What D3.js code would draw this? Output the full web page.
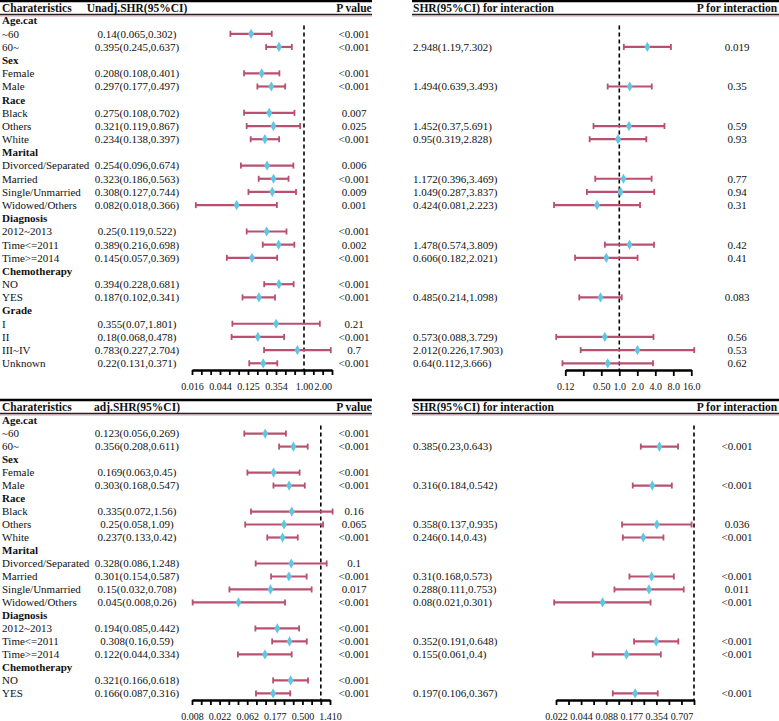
<!DOCTYPE html>
<html>
<head>
<meta charset="utf-8">
<script src="https://cdn.jsdelivr.net/npm/d3@7"></script>
<style>
  body { margin: 0; background: #fff; }
  text { font-family: "Liberation Serif", "Times New Roman", serif; fill: #111; }
</style>
</head>
<body>
<div id="chart"></div>
<script>
// row labels (group rows are in bold)
var labels = ["Age.cat","~60","60~","Sex","Female","Male","Race","Black","Others","White",
  "Marital","Divorced/Separated","Married","Single/Unmarried","Widowed/Others",
  "Diagnosis","2012~2013","Time<=2011","Time>=2014","Chemotherapy","NO","YES",
  "Grade","I","II","III~IV","Unknown"];
var groups = ["Age.cat","Sex","Race","Marital","Diagnosis","Chemotherapy","Grade"];

// top panel: unadjusted
var topEst = [null,0.14,0.395,null,0.208,0.297,null,0.275,0.321,0.234,null,0.254,0.323,0.308,0.082,null,0.25,0.389,0.145,null,0.394,0.187,null,0.355,0.18,0.783,0.22];
var topLo  = [null,0.065,0.245,null,0.108,0.177,null,0.108,0.119,0.138,null,0.096,0.186,0.127,0.018,null,0.119,0.216,0.057,null,0.228,0.102,null,0.07,0.068,0.227,0.131];
var topHi  = [null,0.302,0.637,null,0.401,0.497,null,0.702,0.867,0.397,null,0.674,0.563,0.744,0.366,null,0.522,0.698,0.369,null,0.681,0.341,null,1.801,0.478,2.704,0.371];
var topP   = ["","<0.001","<0.001","","<0.001","<0.001","","0.007","0.025","<0.001","","0.006","<0.001","0.009","0.001","","<0.001","0.002","<0.001","","<0.001","<0.001","","0.21","<0.001","0.7","<0.001"];
var topIntEst = [null,null,2.948,null,null,1.494,null,null,1.452,0.95,null,null,1.172,1.049,0.424,null,null,1.478,0.606,null,null,0.485,null,null,0.573,2.012,0.64];
var topIntLo  = [null,null,1.19,null,null,0.639,null,null,0.37,0.319,null,null,0.396,0.287,0.081,null,null,0.574,0.182,null,null,0.214,null,null,0.088,0.226,0.112];
var topIntHi  = [null,null,7.302,null,null,3.493,null,null,5.691,2.828,null,null,3.469,3.837,2.223,null,null,3.809,2.021,null,null,1.098,null,null,3.729,17.903,3.666];
var topIntP   = ["","","0.019","","","0.35","","","0.59","0.93","","","0.77","0.94","0.31","","","0.42","0.41","","","0.083","","","0.56","0.53","0.62"];

// bottom panel: adjusted
var botEst = [null,0.123,0.356,null,0.169,0.303,null,0.335,0.25,0.237,null,0.328,0.301,0.15,0.045,null,0.194,0.308,0.122,null,0.321,0.166];
var botLo  = [null,0.056,0.208,null,0.063,0.168,null,0.072,0.058,0.133,null,0.086,0.154,0.032,0.008,null,0.085,0.16,0.044,null,0.166,0.087];
var botHi  = [null,0.269,0.611,null,0.45,0.547,null,1.56,1.09,0.42,null,1.248,0.587,0.708,0.26,null,0.442,0.59,0.334,null,0.618,0.316];
var botP   = ["","<0.001","<0.001","","<0.001","<0.001","","0.16","0.065","<0.001","","0.1","<0.001","0.017","<0.001","","<0.001","<0.001","<0.001","","<0.001","<0.001"];
var botIntEst = [null,null,0.385,null,null,0.316,null,null,0.358,0.246,null,null,0.31,0.288,0.08,null,null,0.352,0.155,null,null,0.197];
var botIntLo  = [null,null,0.23,null,null,0.184,null,null,0.137,0.14,null,null,0.168,0.111,0.021,null,null,0.191,0.061,null,null,0.106];
var botIntHi  = [null,null,0.643,null,null,0.542,null,null,0.935,0.43,null,null,0.573,0.753,0.301,null,null,0.648,0.4,null,null,0.367];
var botIntP   = ["","","<0.001","","","<0.001","","","0.036","<0.001","","","<0.001","0.011","<0.001","","","<0.001","<0.001","","","<0.001"];

// axis ticks (log2 exponents) and labels
var tlTicks = d3.range(-6, 1.51, 0.5), tlLabVals = [-6,-4.5,-3,-1.5,0,1], tlLabs = ["0.016","0.044","0.125","0.354","1.00","2.00"];
var trTicks = d3.range(-3, 4.01, 1),   trLabVals = [-3,-1,0,1,2,3,4],     trLabs = ["0.12","0.50","1.0","2.0","4.0","8.0","16.0"];
var blTicks = d3.range(-7, 0.51, 0.5), blLabVals = [-7,-5.5,-4,-2.5,-1,0.5], blLabs = ["0.008","0.022","0.062","0.177","0.500","1.410"];
var brTicks = d3.range(-5.5, 0.01, 0.5), brLabVals = [-5.5,-4.5,-3.5,-2.5,-1.5,-0.5], brLabs = ["0.022","0.044","0.088","0.177","0.354","0.707"];

var W = 779, H = 721;
var ciColor = "#b9506f", ptColor = "#5fc6e3";

var svg = d3.select("#chart").append("svg")
  .attr("width", W).attr("height", H);
svg.append("rect").attr("width", W).attr("height", H).attr("fill", "#fff");

function fmt(e, l, h) { return e == null ? "" : e + "(" + l + "," + h + ")"; }

function header(y0, x1, x2) {
  svg.append("line").attr("x1", x1).attr("x2", x2).attr("y1", y0).attr("y2", y0)
    .attr("stroke", "#000").attr("stroke-width", 2.5);
  svg.append("line").attr("x1", x1).attr("x2", x2).attr("y1", y0 + 13.5).attr("y2", y0 + 13.5)
    .attr("stroke", "#222").attr("stroke-width", 1.3);
  svg.append("line").attr("x1", x1).attr("x2", x2).attr("y1", y0 + 15).attr("y2", y0 + 15)
    .attr("stroke", ciColor).attr("stroke-width", 0.8).attr("opacity", 0.7);
}

function forest(g, x, rows, est, lo, hi, yTop, yAxis, ticks, labVals, labs, tickLen) {
  // reference line at 1
  g.append("line").attr("x1", x(1)).attr("x2", x(1))
    .attr("y1", rows(0) + 5).attr("y2", yAxis)
    .attr("stroke", "#000").attr("stroke-width", 1.6).attr("stroke-dasharray", "4,3");

  var idx = d3.range(est.length).filter(function(i) { return est[i] != null; });
  var ci = g.selectAll(".ci").data(idx).enter().append("g");
  ci.append("line")
    .attr("x1", function(i) { return x(lo[i]); })
    .attr("x2", function(i) { return x(hi[i]); })
    .attr("y1", function(i) { return rows(i); })
    .attr("y2", function(i) { return rows(i); })
    .attr("stroke", ciColor).attr("stroke-width", 2.2);
  [lo, hi].forEach(function(arr) {
    ci.append("line")
      .attr("x1", function(i) { return x(arr[i]); })
      .attr("x2", function(i) { return x(arr[i]); })
      .attr("y1", function(i) { return rows(i) - 3; })
      .attr("y2", function(i) { return rows(i) + 3; })
      .attr("stroke", ciColor).attr("stroke-width", 1.8);
  });
  ci.append("path")
    .attr("d", d3.symbol(d3.symbolDiamond, 30))
    .attr("transform", function(i) { return "translate(" + x(est[i]) + "," + rows(i) + ")"; })
    .attr("fill", ptColor);

  // axis with ticks, then labels
  var ax = g.append("g").attr("transform", "translate(0," + yAxis + ")")
    .call(d3.axisBottom(x).tickValues(ticks.map(function(v) { return Math.pow(2, v); }))
      .tickSize(tickLen).tickSizeOuter(0).tickFormat(""));
  ax.select(".domain").attr("stroke", "#000").attr("stroke-width", 2.5);
  ax.selectAll(".tick line").attr("stroke", "#000").attr("stroke-width", 1.8);

  var lab = g.append("g").attr("transform", "translate(0," + yAxis + ")")
    .call(d3.axisBottom(x).tickValues(labVals.map(function(v) { return Math.pow(2, v); }))
      .tickSize(0).tickPadding(13)
      .tickFormat(function(d, i) { return labs[i]; }));
  lab.select(".domain").remove();
  lab.selectAll("text").style("font-family", "Liberation Serif").style("font-size", "10px").attr("fill", "#111");
}

function textCols(g, rows, n, cols) {
  cols.forEach(function(c) {
    g.selectAll(null).data(d3.range(n)).enter().append("text")
      .attr("x", c.x).attr("y", function(i) { return rows(i); })
      .attr("dy", "0.35em")
      .attr("text-anchor", c.anchor)
      .style("font-size", "11px")
      .style("font-weight", function(i) { return c.bold && groups.indexOf(labels[i]) >= 0 ? "bold" : "normal"; })
      .text(c.val);
  });
}

function headText(y, items) {
  items.forEach(function(t) {
    svg.append("text").attr("x", t.x).attr("y", y).attr("dy", "0.35em")
      .attr("text-anchor", t.anchor).style("font-size", "11.5px").style("font-weight", "bold")
      .text(t.s);
  });
}

function panel(y0, firstRow, step, n, yAxis, d, leftHead, scL, scR) {
  var rows = function(i) { return firstRow + step * i; };
  header(y0, 0, 372);
  header(y0, 412, 779);
  headText(y0 + 7, [
    {x: 2, anchor: "start", s: "Charateristics"},
    {x: 137, anchor: "middle", s: leftHead},
    {x: 354, anchor: "middle", s: "P value"},
    {x: 413, anchor: "start", s: "SHR(95%CI) for interaction"},
    {x: 737, anchor: "middle", s: "P for interaction"}
  ]);
  var g = svg.append("g");
  textCols(g, rows, n, [
    {x: 2, anchor: "start", bold: true, val: function(i) { return labels[i]; }},
    {x: 137, anchor: "middle", val: function(i) { return fmt(d.est[i], d.lo[i], d.hi[i]); }},
    {x: 354, anchor: "middle", val: function(i) { return d.p[i]; }},
    {x: 413, anchor: "start", val: function(i) { return fmt(d.iest[i], d.ilo[i], d.ihi[i]); }},
    {x: 737, anchor: "middle", val: function(i) { return d.ip[i]; }}
  ]);
  forest(g, scL.x, rows, d.est, d.lo, d.hi, firstRow, yAxis, scL.ticks, scL.labVals, scL.labs, 5);
  forest(g, scR.x, rows, d.iest, d.ilo, d.ihi, firstRow, yAxis, scR.ticks, scR.labVals, scR.labs, scR.tickLen);
}

var log2 = function(a, b, r0, r1) {
  return d3.scaleLog().base(2).domain([Math.pow(2, a), Math.pow(2, b)]).range([r0, r1]);
};

panel(1, 20.6, 13.18, labels.length, 370,
  {est: topEst, lo: topLo, hi: topHi, p: topP, iest: topIntEst, ilo: topIntLo, ihi: topIntHi, ip: topIntP},
  "Unadj.SHR(95%CI)",
  {x: log2(-6, 1.5, 192, 332), ticks: tlTicks, labVals: tlLabVals, labs: tlLabs},
  {x: log2(-3, 4, 565.3, 691.3), ticks: trTicks, labVals: trLabVals, labs: trLabs, tickLen: 6});

panel(400, 420.6, 12.99, botEst.length, 700,
  {est: botEst, lo: botLo, hi: botHi, p: botP, iest: botIntEst, ilo: botIntLo, ihi: botIntHi, ip: botIntP},
  "adj.SHR(95%CI)",
  {x: log2(-7, 0.5, 192, 330), ticks: blTicks, labVals: blLabVals, labs: blLabs},
  {x: log2(-5.5, 0, 556, 694), ticks: brTicks, labVals: brLabVals, labs: brLabs, tickLen: 5});
</script>
</body>
</html>
